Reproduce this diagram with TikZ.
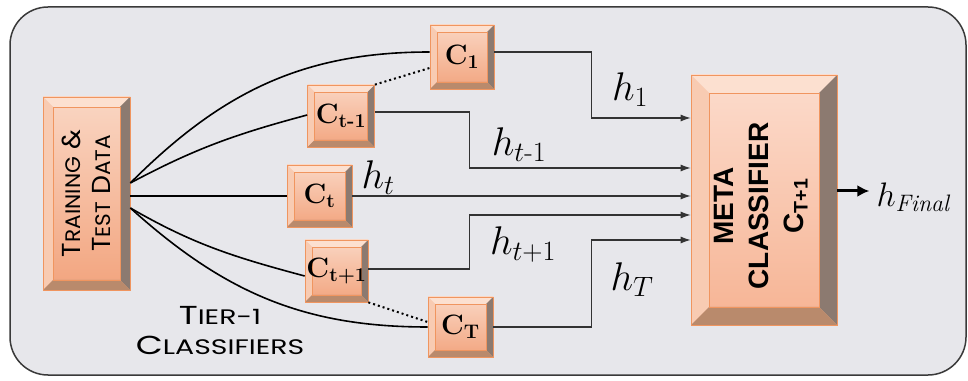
\RequirePackage{fix-cm}
\documentclass[tikz,border=0pt]{standalone}
\usepackage{fontspec}
\usepackage{graphicx}
\usepackage{amsmath}
\usetikzlibrary{arrows.meta}

\newfontfamily\geofont[FakeStretch=1.03]{Poppins}
\newfontfamily\tierfont[FakeStretch=1.35]{Poppins}
\newfontfamily\arialfont{Liberation Sans}
\newcommand{\sccaps}[1]{{\fontsize{21}{22}\selectfont #1}}
\newcommand{\cname}[1]{{\fontsize{28}{28}\selectfont\bfseries C\textsubscript{#1}}}

\definecolor{panel}{HTML}{E7E7EB}
\definecolor{panelline}{HTML}{3A3A3A}
\definecolor{boxline}{HTML}{F0955F}
\definecolor{facetop}{HTML}{FAD6C3}
\definecolor{facebot}{HTML}{F2A47E}
\definecolor{bevtop}{HTML}{FCE0D0}
\definecolor{bevleft}{HTML}{F8CBB2}
\definecolor{bevright}{HTML}{8C7A70}
\definecolor{bevbot}{HTML}{B98A6C}
\definecolor{metatop}{HTML}{FCDCCD}
\definecolor{metabot}{HTML}{F6B393}

\tikzset{
  bevel/.style={draw=boxline, line width=0.7pt, inner sep=0pt,
    top color=facetop, bottom color=facebot,
    path picture={
      \coordinate (bl) at (path picture bounding box.south west);
      \coordinate (tr) at (path picture bounding box.north east);
      \coordinate (tl) at (bl|-tr);
      \coordinate (br) at (tr|-bl);
      \fill[bevtop] (tl) -- (tr) -- ([xshift=-#1pt,yshift=-#1pt]tr) -- ([xshift=#1pt,yshift=-#1pt]tl) -- cycle;
      \fill[bevleft] (tl) -- ([xshift=#1pt,yshift=-#1pt]tl) -- ([xshift=#1pt,yshift=#1pt]bl) -- (bl) -- cycle;
      \fill[bevright] (tr) -- (br) -- ([xshift=-#1pt,yshift=#1pt]br) -- ([xshift=-#1pt,yshift=-#1pt]tr) -- cycle;
      \fill[bevbot] (bl) -- ([xshift=#1pt,yshift=#1pt]bl) -- ([xshift=-#1pt,yshift=#1pt]br) -- (br) -- cycle;
      \draw[boxline, line width=0.4pt] ([xshift=#1pt,yshift=#1pt]bl) rectangle ([xshift=-#1pt,yshift=-#1pt]tr);
    }},
  bevel/.default=7,
  metabox/.style={bevel=18, top color=metatop, bottom color=metabot},
  feed/.style={line width=1.6pt, black},
  link/.style={dash pattern=on 2pt off 3pt, line width=2pt},
  hline/.style={line width=1.1pt, black!80, -{Latex[length=10pt,width=7pt]}},
  hlabel/.style={font=\fontsize{40}{42}\selectfont, inner sep=0pt}
}

\begin{document}
\begin{tikzpicture}[x=1pt,y=1pt]
    \useasboundingbox (0,0) rectangle (968,380);
    \draw[panelline, line width=1.5pt, fill=panel, rounded corners=38pt] (10,5) rectangle (966,373);

    % Input data and tier-1 classifiers
    \node[bevel=10, minimum width=87pt, minimum height=193pt] (data) at (86.5,186.5) {};
    \node[rotate=90, align=center, font=\geofont\fontsize{26}{30}\selectfont] (datatext) at (data.center)
        {T\sccaps{RAINING} \&\\T\sccaps{EST} D\sccaps{ATA}};
    \node[bevel, minimum width=64pt, minimum height=64pt] (c1) at (462,323) {\cname{1}};
    \node[bevel, minimum width=67pt, minimum height=62pt] (ctm1) at (341,264) {\cname{t-1}};
    \node[bevel, minimum width=65pt, minimum height=62pt] (ct) at (319.5,184) {\cname{t}};
    \node[bevel, minimum width=63pt, minimum height=62pt] (ctp1) at (336.5,109) {\cname{t+1}};
    \node[bevel, minimum width=65pt, minimum height=60pt] (cT) at (460.5,53) {\cname{T}};
    \node[align=center, font=\tierfont\fontsize{26}{30}\selectfont] (tier) at (220,49) {T\sccaps{IER-1}\\C\sccaps{LASSIFIERS}};

    % Meta classifier
    \node[metabox, minimum width=146pt, minimum height=250pt] (meta) at (764,180) {};
    \node[rotate=90, align=center, font=\arialfont\bfseries\fontsize{28}{35}\selectfont] (metatext) at ([xshift=-3pt,yshift=-6pt]meta.center)
        {META\\CLASSIFIER\\C\textsubscript{T+1}};

    % Data to classifiers
    \draw[feed] ([yshift=10.5pt]data.east) to[out=45, in=180] ([yshift=5pt]c1.west);
    \draw[feed] ([yshift=10.5pt]data.east) to[out=28, in=195] ([yshift=1pt]ctm1.west);
    \draw[feed] (ct.west -| data.east) -- (ct.west);
    \draw[feed] ([yshift=-14.5pt]data.east) to[out=-30, in=165] ([yshift=-5pt]ctp1.west);
    \draw[feed] ([yshift=-14.5pt]data.east) to[out=-42, in=180] (cT.west);
    \draw[link] (ctm1.north east) -- ([yshift=-11pt]c1.west);
    \draw[link] (ctp1.south east) -- ([yshift=5pt]cT.west);

    % Classifier outputs
    \draw[hline] ([yshift=5pt]c1.east) -- ++(97,0) |- ([yshift=82pt]meta.west);
    \draw[hline] ([yshift=4pt]ctm1.east) -- ++(95,0) |- ([yshift=32pt]meta.west);
    \draw[hline] (ct.east) -- (ct.east -| meta.west);
    \draw[hline] ([yshift=2pt]ctp1.east) -- ++(101,0) |- ([yshift=-15pt]meta.west);
    \draw[hline] (cT.east) -- ++(98,0) |- ([yshift=-40pt]meta.west);
    \node[hlabel] (h1) at (630,290) {$h_1$};
    \node[hlabel] (htm1) at (519,235) {$h_{t\text{-}1}$};
    \node[hlabel] (ht) at (378,202) {$h_t$};
    \node[hlabel] (htp1) at (523,135) {$h_{t+1}$};
    \node[hlabel] (hT) at (632,100) {$h_T$};

    % Final output
    \node[font=\fontsize{34}{36}\selectfont, inner sep=0pt] (hfinal) at (913,183) {$h_{\mathit{Final}}$};
    \draw[line width=3pt, -{Latex[length=12pt,width=12pt]}] ([yshift=9pt]meta.east) -- ([yshift=9pt,xshift=-7pt]meta.east -| hfinal.west);
\end{tikzpicture}
\end{document}
